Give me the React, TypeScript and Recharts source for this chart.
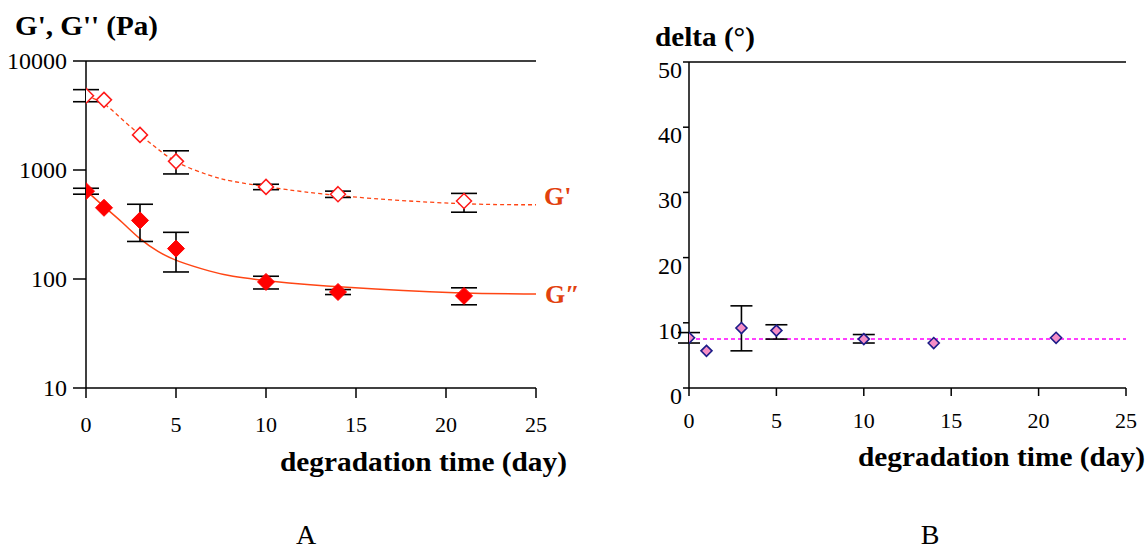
import React from "react";
import {
  ComposedChart,
  Line,
  Scatter,
  ErrorBar,
  XAxis,
  YAxis,
  ReferenceLine,
} from "recharts";

// sampling days
const days = [0, 1, 3, 5, 10, 14, 21];
const dayTicks = [0, 5, 10, 15, 20, 25];

// panel A: storage / loss modulus (Pa)
const gPrime = [4800, 4400, 2100, 1200, 700, 600, 520];
const gPrimeErrLow = [570, 0, 0, 280, 40, 40, 110];
const gPrimeErrHigh = [660, 0, 0, 300, 40, 40, 90];
const gDouble = [640, 450, 345, 190, 94, 76, 70];
const gDoubleErrLow = [40, 0, 124, 74, 13, 4, 12];
const gDoubleErrHigh = [40, 0, 140, 78, 12, 4, 13];

// fitted trend curves
const fitDays = [0, 1, 2, 3, 4, 5, 7, 8, 10, 14, 21, 25];
const gPrimeFit = [4800, 4200, 2900, 2100, 1550, 1150, 870, 790, 700, 570, 480, 480];
const gDoubleFit = [650, 460, 335, 230, 177, 146, 116, 106, 96, 84, 73, 73];
const modulusTicks = [10, 100, 1000, 10000];

// panel B: phase angle (deg)
const delta = [7.7, 5.7, 9.2, 8.8, 7.5, 6.9, 7.7];
const deltaErrLow = [0.8, 0, 3.5, 1.3, 0.6, 0, 0];
const deltaErrHigh = [0.8, 0, 3.4, 0.9, 0.7, 0, 0];
const deltaMean = 7.5;
const deltaTicks = [0, 10, 20, 30, 40, 50];

const FONT = '"Liberation Serif", Tinos, "DejaVu Serif", serif';
const LINE_RED = "#ff4514";
const LABEL_RED = "#e2410e";

const pointsOf = (vals: number[], lo: number[], hi: number[]) =>
  days.map((d, i) => ({
    x: d,
    y: vals[i],
    err: lo[i] || hi[i] ? [lo[i], hi[i]] : undefined,
  }));

const gPrimeData = pointsOf(gPrime, gPrimeErrLow, gPrimeErrHigh);
const gDoubleData = pointsOf(gDouble, gDoubleErrLow, gDoubleErrHigh);
const deltaData = pointsOf(delta, deltaErrLow, deltaErrHigh);
const gPrimeFitData = fitDays.map((d, i) => ({ x: d, y: gPrimeFit[i] }));
const gDoubleFitData = fitDays.map((d, i) => ({ x: d, y: gDoubleFit[i] }));

const diamond = (r: number, fill: string, stroke: string, sw: number) =>
  (props: any) => {
    const { cx, cy } = props;
    if (cx == null || cy == null) return <g />;
    return (
      <path
        d={`M${cx},${cy - r}L${cx + r},${cy}L${cx},${cy + r}L${cx - r},${cy}Z`}
        fill={fill}
        stroke={stroke}
        strokeWidth={sw}
      />
    );
  };

const makeTick = (dy: number, size: number, anchor: string) =>
  (props: any) => {
    const { x, y, payload } = props;
    return (
      <text
        x={x}
        y={y + dy}
        textAnchor={anchor}
        style={{ fontFamily: FONT }}
        fontSize={size}
        fill="#000"
      >
        {payload.value}
      </text>
    );
  };

const axisLine = { stroke: "#000", strokeWidth: 1.5 };

function PanelA() {
  return (
    <ComposedChart
      width={560}
      height={440}
      margin={{ top: 61, right: 24, bottom: 12, left: 0 }}
    >
      <XAxis
        type="number"
        dataKey="x"
        domain={[0, 25]}
        ticks={dayTicks}
        height={40}
        tickSize={10}
        tickMargin={0}
        axisLine={axisLine}
        tickLine={axisLine}
        tick={makeTick(34, 22, "middle")}
        allowDataOverflow
      />
      <YAxis
        type="number"
        dataKey="y"
        scale="log"
        domain={[10, 10000]}
        ticks={modulusTicks}
        width={86}
        tickSize={13}
        tickMargin={6}
        axisLine={axisLine}
        tickLine={axisLine}
        tick={makeTick(8, 24, "end")}
        allowDataOverflow
      />
      <ReferenceLine y={10000} stroke="#000" strokeWidth={1.5} />
      <Line
        data={gPrimeFitData}
        dataKey="y"
        type="basis"
        stroke={LINE_RED}
        strokeWidth={1.3}
        strokeDasharray="4 3"
        dot={false}
        isAnimationActive={false}
      />
      <Line
        data={gDoubleFitData}
        dataKey="y"
        type="basis"
        stroke={LINE_RED}
        strokeWidth={1.5}
        dot={false}
        isAnimationActive={false}
      />
      <Scatter
        data={gPrimeData}
        dataKey="y"
        shape={diamond(7.5, "#fff", "#ff1a1a", 1.5)}
        isAnimationActive={false}
      >
        <ErrorBar
          dataKey="err"
          direction="y"
          width={13}
          stroke="#000"
          strokeWidth={1.6}
        />
      </Scatter>
      <Scatter
        data={gDoubleData}
        dataKey="y"
        shape={diamond(8.5, "#ff0000", "#ff0000", 1)}
        isAnimationActive={false}
      >
        <ErrorBar
          dataKey="err"
          direction="y"
          width={13}
          stroke="#000"
          strokeWidth={1.6}
        />
      </Scatter>
    </ComposedChart>
  );
}

function PanelB() {
  return (
    <ComposedChart
      width={547}
      height={440}
      margin={{ top: 62, right: 21, bottom: 12, left: 0 }}
    >
      <XAxis
        type="number"
        dataKey="x"
        domain={[0, 25]}
        ticks={dayTicks}
        height={40}
        tickSize={8}
        tickMargin={0}
        axisLine={axisLine}
        tickLine={axisLine}
        tick={makeTick(32, 22, "middle")}
        allowDataOverflow
      />
      <YAxis
        type="number"
        dataKey="y"
        domain={[0, 50]}
        ticks={deltaTicks}
        width={89}
        tickSize={6}
        tickMargin={1}
        axisLine={axisLine}
        tickLine={axisLine}
        tick={makeTick(16, 24, "end")}
        allowDataOverflow
      />
      <ReferenceLine y={50} stroke="#000" strokeWidth={1.5} />
      <ReferenceLine
        y={deltaMean}
        stroke="#ff00ff"
        strokeWidth={1.5}
        strokeDasharray="4 3"
      />
      <Scatter
        data={deltaData}
        dataKey="y"
        shape={diamond(5.5, "#f58ec6", "#1c1c88", 1.6)}
        isAnimationActive={false}
      >
        <ErrorBar
          dataKey="err"
          direction="y"
          width={11}
          stroke="#000"
          strokeWidth={1.6}
        />
      </Scatter>
    </ComposedChart>
  );
}

export default function App() {
  const title = { fontFamily: FONT, fontWeight: 700 } as const;
  return (
    <div
      style={{
        position: "absolute",
        left: 0,
        top: 0,
        width: 1147,
        height: 550,
        background: "#fff",
        fontFamily: FONT,
      }}
    >
      <div style={{ position: "absolute", left: 0, top: 0 }}>
        <PanelA />
      </div>
      <div style={{ position: "absolute", left: 600, top: 0 }}>
        <PanelB />
      </div>
      <svg
        width={1147}
        height={550}
        style={{ position: "absolute", left: 0, top: 0, pointerEvents: "none" }}
      >
        <text x={15} y={35} fontSize={27} style={title} textLength={143} lengthAdjust="spacingAndGlyphs">
          G', G'' (Pa)
        </text>
        <text x={655} y={46} fontSize={27} style={title} textLength={100} lengthAdjust="spacingAndGlyphs">
          delta (°)
        </text>
        <text x={280} y={471} fontSize={27} style={title} textLength={287} lengthAdjust="spacingAndGlyphs">
          degradation time (day)
        </text>
        <text x={858} y={466} fontSize={27} style={title} textLength={287} lengthAdjust="spacingAndGlyphs">
          degradation time (day)
        </text>
        <text x={544} y={205} fontSize={26} style={title} fill={LABEL_RED}>
          G'
        </text>
        <text x={545} y={303} fontSize={26} style={title} fill={LABEL_RED}>
          G″
        </text>
        <text x={306} y={544} fontSize={28} style={{ fontFamily: FONT }} textAnchor="middle">
          A
        </text>
        <text x={930} y={544} fontSize={28} style={{ fontFamily: FONT }} textAnchor="middle">
          B
        </text>
      </svg>
    </div>
  );
}
